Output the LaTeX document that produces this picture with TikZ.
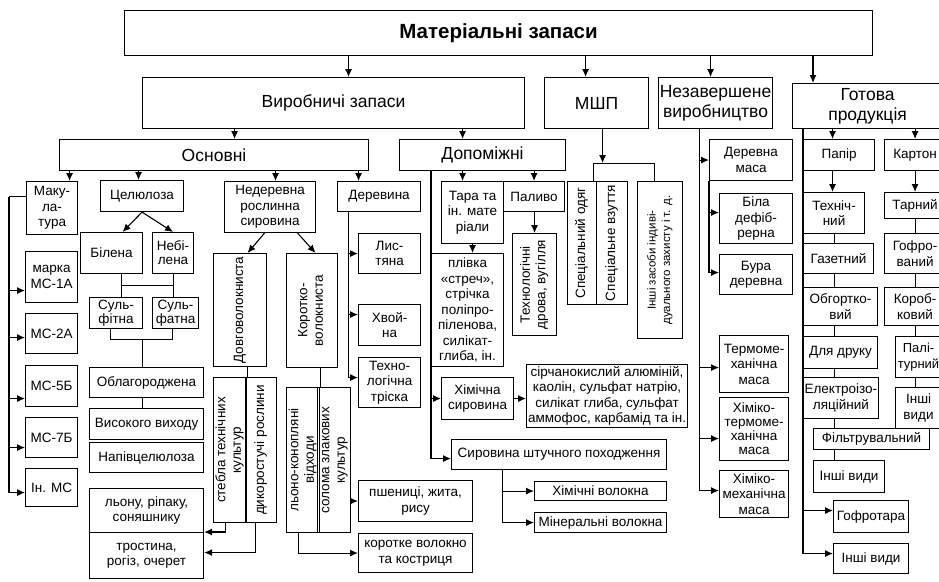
\documentclass[tikz,border=0pt]{standalone}
\usepackage{fontspec}
\setmainfont{Liberation Sans}
\usepackage{graphicx}
\usepackage{tikz}
\usetikzlibrary{arrows.meta}
\tikzset{
  item/.style={draw, line width=1.1pt, inner sep=1pt, align=center, anchor=north west,
    font=\fontsize{13.5}{15.5}\selectfont},
  group/.style={item, font=\fontsize{17.5}{20}\selectfont},
  root/.style={item, font=\fontsize{20.5}{23}\selectfont\bfseries},
  tight/.style={font=\fontsize{13.5}{14}\selectfont},
  smalltxt/.style={font=\fontsize{11.5}{14.5}\selectfont},
  wh/.style 2 args={minimum width=#1pt, minimum height=#2pt},
  link/.style={line width=1.1pt},
  arrow/.style={link, -{Latex[length=8pt,width=7pt]}},
}
\newcommand{\vtext}[1]{\rotatebox{90}{\begin{tabular}{@{}c@{}}#1\end{tabular}}}

\begin{document}
\begin{tikzpicture}[x=1pt, y=-1pt]
\useasboundingbox (0,0) rectangle (939,581);
% top levels
\node[root, wh={748}{45}] (mz) at (124,10) {Матеріальні запаси};
\node[group, wh={382}{51}] (vz) at (142,77) {Виробничі запаси};
\node[group, wh={104}{51}] (msp) at (544,77) {МШП};
\node[group, wh={114}{51}] (nv) at (658,77) {Незавершене\\виробництво};
\node[group, wh={150}{45}] (gp) at (792,83) {Готова\\продукція};
\draw[arrow] ([xshift=15pt]vz.north |- mz.south) -- ([xshift=15pt]vz.north);
\draw[arrow] ([xshift=-11pt]msp.north |- mz.south) -- ([xshift=-11pt]msp.north);
\draw[arrow] ([xshift=-5pt]nv.north |- mz.south) -- ([xshift=-5pt]nv.north);
\draw[arrow] ([xshift=21pt]gp.north west |- mz.south) -- ([xshift=21pt]gp.north west);
\node[group, wh={309}{31}] (osn) at (59,139) {Основні};
\node[group, wh={166}{31}] (dop) at (399,139) {Допоміжні};
\draw[arrow] ([xshift=20.5pt]osn.north |- vz.south) -- ([xshift=20.5pt]osn.north);
\draw[arrow] ([xshift=-20pt]dop.north |- vz.south) -- ([xshift=-20pt]dop.north);

% Основні
\node[item, wh={51}{53}] (mak) at (26,181) {Маку-\\ла-\\тура};
\node[item, wh={83}{31}] (cel) at (100,180) {Целюлоза};
\node[item, wh={91}{51}] (ned) at (224,181) {Недеревна\\рослинна\\сировина};
\node[item, wh={83}{30}] (der) at (337,181) {Деревина};
\draw[arrow] ([xshift=17.5pt]mak.north |- osn.south) -- ([xshift=17.5pt]mak.north);
\draw[arrow] ([xshift=-3.5pt]cel.north |- osn.south) -- ([xshift=-3.5pt]cel.north);
\draw[arrow] ([xshift=5.5pt]ned.north |- osn.south) -- ([xshift=5.5pt]ned.north);
\draw[arrow] ([xshift=-20.5pt]der.north |- osn.south) -- ([xshift=-20.5pt]der.north);

% макулатура
\node[item, wh={52}{51}] (ms1) at (25,251) {марка\\МС-1А};
\node[item, wh={52}{40}] (ms2) at (25,313) {МС-2А};
\node[item, wh={52}{41}] (ms5) at (25,365) {МС-5Б};
\node[item, wh={52}{40}] (ms7) at (25,417) {МС-7Б};
\node[item, wh={52}{38}] (msi) at (25,468) {Ін. МС};
\draw[link] ([yshift=11.5pt]mak.west) -- ([xshift=-17pt,yshift=11.5pt]mak.west) coordinate (mb);
\draw[arrow] (mb) |- ([yshift=-13.5pt]ms1.west);
\draw[arrow] (mb) |- ([yshift=-4pt]ms2.west);
\draw[arrow] (mb) |- ([yshift=-12.5pt]ms5.west);
\draw[arrow] (mb) |- ([yshift=-10pt]ms7.west);
\draw[arrow] (mb) |- ([yshift=-5pt]msi.west);

% целюлоза
\node[item, wh={62}{41}] (bil) at (80,232) {Білена};
\node[item, tight, wh={41}{41}] (nebil) at (152,232) {Небі-\\лена};
\node[item, tight, wh={53}{31}] (sulfi) at (89,297) {Суль-\\фітна};
\node[item, tight, wh={46}{31}] (sulfa) at (152,297) {Суль-\\фатна};
\draw[arrow] (cel.south) -- ([xshift=11pt]bil.north);
\draw[arrow] (cel.south) -- (nebil.north);
\draw[link] ([xshift=10pt]bil.south) -- ([xshift=10pt]bil.south |- sulfi.north);
\draw[link] (nebil.south) -- (nebil.south |- sulfa.north);
\draw[link] ([xshift=10pt,yshift=-11pt]bil.south) -- ([yshift=-11pt]nebil.south);
\node[item, wh={114}{30}] (obl) at (89,367) {Облагороджена};
\node[item, wh={114}{31}] (vv) at (89,408) {Високого виходу};
\node[item, wh={114}{30}] (npc) at (89,442) {Напівцелюлоза};
\coordinate (sj) at ([yshift=-10pt]sulfi.south);
\draw[link] ([xshift=-5.5pt]sulfi.south) -- ([xshift=-5.5pt,yshift=-10pt]sulfi.south)
  -- ([xshift=-3pt,yshift=-10pt]sulfa.south) -- ([xshift=-3pt]sulfa.south);
\draw[link] ([xshift=-4pt]obl.north) -- ([xshift=-4pt]obl.north |- sj);
\draw[link] ([xshift=-4pt]obl.south) -- ([xshift=-4pt]vv.north);

% недеревна сировина
\node[item, wh={53}{113}] (dov) at (213,253) {\vtext{Довговолокниста}};
\node[item, wh={51}{114}] (korv) at (286,253) {\vtext{Коротко-\\волокниста}};
\draw[arrow] ([xshift=-5.5pt]ned.south) -- ([xshift=7.5pt]dov.north);
\draw[arrow] ([xshift=27.5pt]ned.south) -- ([xshift=3.5pt]korv.north);
\node[item, wh={32}{145}] (stb) at (213,377) {\vtext{стебла технічних\\культур}};
\node[item, wh={31}{145}] (dik) at (245,377) {\vtext{дикоростучі рослини}};
\node[item, wh={31}{145}] (lko) at (286,387) {\vtext{льоно-конопляні\\відходи}};
\node[item, wh={30}{145}] (sol) at (317,387) {\vtext{солома злакових\\культур}};
\draw[link] (dov.south -| stb.east) -- (stb.north east);
\draw[link] (korv.south -| lko.east) -- (lko.north east);
\node[item, wh={114}{44}] (lnp) at (89,488) {льону, ріпаку,\\соняшнику};
\node[item, wh={114}{46}] (tro) at (89,532) {тростина,\\рогіз, очерет};
\node[item, wh={114}{41}] (pshe) at (358,480) {пшениці, жита,\\рису};
\node[item, wh={114}{39}] (kos) at (358,533) {коротке волокно\\та костриця};
\draw[arrow] ([xshift=-5pt]stb.south) |- (tro.north east);
\draw[arrow] ([xshift=-5.5pt]dik.south) |- ([yshift=3pt]tro.east);
\draw[arrow] (pshe.west -| sol.east) -- (pshe.west);
\draw[arrow] ([xshift=-4.5pt]lko.south) |- (kos.west);

% деревина
\node[item, wh={62}{40}] (lis) at (358,233) {Лис-\\тяна};
\node[item, wh={62}{41}] (hvo) at (358,304) {Хвой-\\на};
\node[item, wh={62}{50}] (tex) at (358,357) {Техно-\\логічна\\тріска};
\draw[arrow] ([xshift=-30.5pt]der.south) |- (lis.west);
\draw[arrow] ([xshift=-30.5pt]der.south) |- ([yshift=10.5pt]hvo.west);
\draw[arrow] ([xshift=-30.5pt]der.south) |- ([yshift=5pt]tex.west);

% допоміжні
\node[item, wh={62}{62}] (tara) at (441,181) {Тара та\\ін. мате\\ріали};
\node[item, wh={61}{30}] (pal) at (503,181) {Паливо};
\node[item, wh={44}{102}] (drova) at (512,233) {\vtext{Технологічні\\дрова, вугілля}};
\node[item, wh={72}{113}] (plv) at (431,253) {плівка\\«стреч»,\\стрічка\\поліпро-\\піленова,\\силікат-\\глиба, ін.};
\node[item, wh={72}{42}] (him) at (441,377) {Хімічна\\сировина};
\node[item, wh={161}{63}] (sirch) at (526,364) {сірчанокислий алюміній,\\каолін, сульфат натрію,\\силікат глиба, сульфат\\аммофос, карбамід та ін.};
\node[item, wh={215}{30}] (shtu) at (451,439) {Сировина штучного походження};
\node[item, wh={132}{19}] (hv) at (534,481) {Хімічні волокна};
\node[item, wh={132}{20}] (mv) at (534,512) {Мінеральні волокна};
\draw[arrow] ([xshift=-10pt]tara.north |- dop.south) -- ([xshift=-10pt]tara.north);
\draw[arrow] (pal.north |- dop.south) -- (pal.north);
\draw[arrow] (pal.south -| drova.north) -- (drova.north);
\draw[arrow] (tara.south) -- (tara.south |- plv.north);
\draw[arrow] (plv.west |- dop.south) |- (him.west);
\draw[arrow] (plv.west |- dop.south) |- ([yshift=-4pt]shtu.west);
\draw[arrow] (him.east) -- (him.east -| sirch.west);
\draw[arrow] ([xshift=-56.5pt]shtu.south) |- (hv.west);
\draw[arrow] ([xshift=-56.5pt]shtu.south) |- (mv.west);

% МШП
\node[item, wh={29}{123}] (odyag) at (567,181) {\vtext{Спеціальний одяг}};
\node[item, wh={31}{123}] (vzut) at (596,181) {\vtext{Спеціальне взуття}};
\node[item, smalltxt, wh={45}{157}] (insz) at (637,181) {\vtext{Інші засоби індиві-\\дуального захисту і т. д.}};
\coordinate (mj) at ([xshift=6pt,yshift=-34pt]msp.south);
\draw[arrow] ([xshift=6pt]msp.south) -- (mj);
\draw[link] ([xshift=-4pt]odyag.north east) |- (mj) -| ([xshift=-5.5pt]insz.north);

% незавершене виробництво
\node[item, wh={83}{41}] (dm) at (709,139) {Деревна\\маса};
\node[item, wh={73}{50}] (bdm) at (719,193) {Біла\\дефіб-\\рерна};
\node[item, wh={73}{40}] (burd) at (719,254) {Бура\\деревна};
\node[item, wh={69}{57}] (tmm) at (719,335) {Термоме-\\ханічна\\маса};
\node[item, tight, wh={69}{63}] (htmm) at (719,397) {Хіміко-\\термоме-\\ханічна\\маса};
\node[item, wh={69}{47}] (hmm) at (719,470) {Хіміко-\\механічна\\маса};
\draw[arrow] ([xshift=-16pt]nv.south) |- (dm.west);
\draw[arrow] ([xshift=-16pt]nv.south) |- ([yshift=-3.5pt]tmm.west);
\draw[arrow] ([xshift=-16pt]nv.south) |- ([yshift=-9.5pt]htmm.west);
\draw[arrow] ([xshift=-16pt]nv.south) |- ([yshift=3.5pt]hmm.west);
\draw[arrow] (dm.south west) |- ([yshift=6pt]bdm.west);
\draw[arrow] (dm.south west) |- ([yshift=2pt]burd.west);

% готова продукція
\node[item, wh={71}{31}] (pap) at (803,139) {Папір};
\node[item, wh={61}{31}] (kart) at (884,139) {Картон};
\node[item, wh={61}{41}] (tech) at (803,192) {Техніч-\\ний};
\node[item, wh={70}{30}] (gaz) at (803,243) {Газетний};
\node[item, wh={74}{38}] (obg) at (803,287) {Обгортко-\\вий};
\node[item, wh={74}{32}] (druk) at (803,336) {Для друку};
\node[item, wh={74}{41}] (elek) at (803,377) {Електроізо-\\ляційний};
\node[item, wh={116}{21}] (filt) at (813,428) {Фільтрувальний};
\node[item, wh={71}{32}] (ivp) at (813,460) {Інші види};
\node[item, wh={75}{32}] (gofr) at (833,500) {Гофротара};
\node[item, wh={75}{30}] (ivg) at (833,543) {Інші види};
\node[item, wh={61}{26}] (tar) at (884,192) {Тарний};
\node[item, wh={61}{40}] (gofv) at (884,233) {Гофро-\\ваний};
\node[item, wh={61}{38}] (korob) at (884,287) {Короб-\\ковий};
\node[item, wh={46}{41}, font=\fontsize{13}{15.5}\selectfont] (palit) at (895,336) {Палі-\\турний};
\node[item, wh={46}{41}] (ivk) at (895,387) {Інші\\види};
\draw[arrow] ([xshift=-6.5pt]pap.north |- gp.south) -- ([xshift=-6.5pt]pap.north);
\draw[arrow] (kart.north |- gp.south) -- (kart.north);
\draw[arrow] (pap.west |- gp.south) |- ([yshift=6pt]gofr.west);
\draw[arrow] (pap.west |- gp.south) |- ([yshift=5pt]ivg.west);
\draw[arrow] ([xshift=-6.5pt]pap.south) -- ([xshift=-6.5pt]pap.south |- tech.north);
\draw[link] (tech.south) -- (tech.south |- gaz.north);
\draw[link] (tech.south |- gaz.south) -- (tech.south |- obg.north);
\draw[link] (tech.south |- obg.south) -- (tech.south |- druk.north);
\draw[link] (tech.south |- druk.south) -- (tech.south |- elek.north);
\draw[link] (tech.south |- elek.south) -- (tech.south |- filt.north);
\draw[link] (tech.south |- filt.south) -- (tech.south |- ivp.north);
\draw[arrow] (kart.south) -- (kart.south |- tar.north);
\draw[link] (kart.south |- tar.south) -- (kart.south |- gofv.north);
\draw[link] (kart.south |- gofv.south) -- (kart.south |- korob.north);
\draw[link] (kart.south |- korob.south) -- (kart.south |- palit.north);
\draw[link] (kart.south |- palit.south) -- (kart.south |- ivk.north);
\end{tikzpicture}
\end{document}
